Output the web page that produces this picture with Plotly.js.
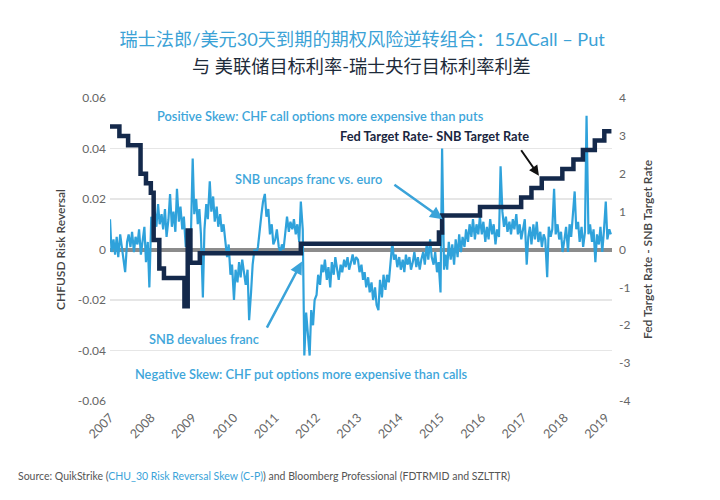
<!DOCTYPE html>
<html>
<head>
<meta charset="utf-8">
<script src="https://cdn.plot.ly/plotly-3.0.1.min.js"></script>
<style>html,body{margin:0;padding:0;background:#fff;}#chart{width:720px;height:500px;}</style>
</head>
<body>
<div id="chart"></div>
<script>
// ---- Data ----
// CHFUSD 30-day risk reversal, sampled on the 1st and 15th of each month
const rr2007 = [0.012,-0.001,0.004,-0.002,0.005,-0.003,0.006,0.001,-0.004,-0.009,0.003,0.006,0.001,0.007,-0.001,0.005,0.002,0.008,-0.002,0.004,0.009,-0.005,0.003,-0.015];
const rr2008 = [0.013,0.006,0.015,0.009,0.018,0.010,0.014,0.008,0.016,0.005,0.012,0.022,0.009,0.015,0.007,0.024,0.011,0.017,0.008,0.013,0.001,0.006,-0.002,0.003];
const rr2009 = [0.036,0.014,0.020,0.010,0.016,0.006,-0.019,0.008,0.018,0.012,0.027,0.015,0.021,0.011,0.017,0.009,0.014,0.007,0.010,0.004,-0.003,0.002,-0.010,-0.006];
const rr2010 = [-0.020,-0.008,-0.013,-0.005,-0.011,-0.004,-0.009,-0.014,-0.008,-0.028,-0.017,-0.006,0.000,-0.002,0.001,0.008,0.014,0.019,0.022,0.013,0.016,0.006,0.010,0.002];
const rr2011 = [0.004,0.008,0.001,-0.001,0.002,0.000,0.009,0.013,0.007,0.011,0.008,0.012,0.006,0.010,0.003,0.019,0.008,-0.042,-0.025,-0.033,-0.042,-0.024,-0.030,-0.020];
const rr2012 = [-0.018,-0.010,-0.014,-0.006,-0.009,-0.004,-0.012,-0.007,-0.015,-0.005,-0.010,-0.003,-0.008,-0.012,-0.006,-0.009,-0.004,-0.007,-0.003,-0.008,-0.005,-0.002,-0.006,-0.003];
const rr2013 = [-0.004,-0.009,-0.006,-0.012,-0.009,-0.015,-0.011,-0.017,-0.013,-0.020,-0.015,-0.022,-0.024,-0.012,-0.019,-0.010,-0.016,-0.010,-0.013,-0.005,0.003,-0.004,-0.002,-0.007];
const rr2014 = [-0.003,-0.008,-0.004,-0.009,-0.002,-0.006,-0.003,-0.008,-0.005,-0.001,-0.007,-0.003,-0.008,-0.004,-0.001,-0.006,0.002,-0.004,0.004,-0.003,-0.006,-0.001,-0.009,-0.005];
const rr2015 = [-0.017,0.040,-0.008,-0.002,-0.008,0.003,-0.004,0.002,-0.006,0.004,-0.003,0.006,-0.001,0.005,0.001,0.008,0.003,0.010,0.005,0.012,0.004,0.010,0.006,0.013];
const rr2016 = [0.006,0.011,0.003,0.009,0.004,0.012,0.006,0.010,0.002,0.008,0.005,0.033,0.015,0.009,0.013,0.007,0.011,0.006,0.012,0.008,0.014,0.006,0.010,0.004];
const rr2017 = [0.008,0.012,-0.006,0.005,0.009,0.002,0.010,0.004,0.011,0.003,0.007,0.001,0.006,0.004,-0.011,0.009,0.005,0.008,0.024,0.006,0.010,0.004,0.007,-0.001];
const rr2018 = [0.004,0.009,-0.001,0.010,0.005,0.013,0.023,0.008,0.011,0.003,0.009,0.001,0.007,0.053,0.006,0.010,0.003,0.008,-0.005,0.006,0.002,0.009,-0.001,0.007];
const rr2019 = [0.019,0.004,0.008,0.006];
const rrYears = [2007,2008,2009,2010,2011,2012,2013,2014,2015,2016,2017,2018,2019];
const rrByYear = [rr2007,rr2008,rr2009,rr2010,rr2011,rr2012,rr2013,rr2014,rr2015,rr2016,rr2017,rr2018,rr2019];

// Fed target rate minus SNB target rate (step series)
const spreadDates = ['2007-01-01','2007-03-25','2007-06-10','2007-09-28','2007-11-15','2007-12-28','2008-01-22','2008-03-12','2008-04-22','2008-10-20','2008-11-18','2008-12-12','2009-03-05','2011-08-15','2014-12-18','2015-01-15','2015-12-16','2016-12-14','2017-03-15','2017-06-14','2017-12-13','2018-03-21','2018-06-13','2018-09-26','2018-12-19','2019-02-20'];
const spreadValues = [3.25,3.0,2.75,2.0,1.75,1.5,0.25,-0.5,-0.75,-1.5,0.5,-0.35,-0.1,0.15,0.45,0.9,1.125,1.375,1.625,1.875,2.125,2.375,2.625,2.875,3.125,3.125];

// Axis ticks
const yearTicks = ['2007','2008','2009','2010','2011','2012','2013','2014','2015','2016','2017','2018','2019'];
const leftTickVals = [-0.06,-0.04,-0.02,0,0.02,0.04,0.06];
const leftTickText = ['-0.06','-0.04','-0.02','0','0.02','0.04','0.06'];
const rightTickVals = [-4,-3,-2,-1,0,1,2,3,4];
const rightTickText = ['-4','-3','-2','-1','0','1','2','3','4'];

// ---- Build series ----
const rrDates = [], rrValues = [];
rrByYear.forEach((vals, k) => {
  vals.forEach((v, i) => {
    const m = Math.floor(i / 2) + 1;
    const d = (i % 2) ? 15 : 1;
    rrDates.push(rrYears[k] + '-' + String(m).padStart(2,'0') + '-' + String(d).padStart(2,'0'));
    rrValues.push(v);
  });
});

const FONT = "Lato, 'Noto Sans CJK SC', sans-serif";
const BLUE = '#2fa2db';
const TXTBLUE = '#3ea6da';
const NAVY = '#14294b';

const traces = [
  {x: rrDates, y: rrValues, type: 'scatter', mode: 'lines', yaxis: 'y',
   line: {color: BLUE, width: 2.2}, name: 'CHFUSD Risk Reversal', hoverinfo: 'x+y'},
  {x: spreadDates, y: spreadValues, type: 'scatter', mode: 'lines', yaxis: 'y2',
   line: {color: NAVY, width: 4.5, shape: 'hv'}, name: 'Fed Target Rate- SNB Target Rate'}
];

const txt = (text, x, y, color, extra) => Object.assign({
  text: text, xref: 'paper', yref: 'paper', x: x, y: y, xanchor: 'center', yanchor: 'middle',
  showarrow: false, font: {family: FONT, size: 12.8, color: color, weight: 600}
}, extra || {});

const arrow = (x, y, ax, ay, color, w) => ({
  text: '', xref: 'x', yref: 'y2', axref: 'x', ayref: 'y2', x: x, y: y, ax: ax, ay: ay,
  showarrow: true, arrowcolor: color, arrowwidth: w, arrowhead: 2, arrowsize: 1
});

const layout = {
  width: 720, height: 500,
  margin: {l: 110, r: 108, t: 98, b: 99},
  paper_bgcolor: '#ffffff', plot_bgcolor: '#ffffff',
  showlegend: false,
  font: {family: FONT, color: '#555'},
  title: {
    text: '瑞士法郎/美元30天到期的期权风险逆转组合：15ΔCall – Put',
    font: {family: FONT, size: 18.2, color: '#3ba2d6'},
    xref: 'container', yref: 'container', x: 0.503, xanchor: 'center', y: 0.921, yanchor: 'middle'
  },
  xaxis: {
    type: 'date', range: ['2007-01-01', '2019-02-25'],
    tickvals: yearTicks.map(y => y + '-01-01'), ticktext: yearTicks,
    tickangle: -45, tickfont: {family: FONT, size: 12.5, color: '#666'},
    showgrid: false, zeroline: false, showline: false, ticks: '', ticklabelstandoff: 6
  },
  yaxis: {
    range: [-0.06, 0.06], tickvals: leftTickVals, ticktext: leftTickText,
    tickfont: {family: FONT, size: 12, color: '#666'},
    showgrid: true, gridcolor: '#e6e6e6', gridwidth: 1.5,
    zeroline: true, zerolinecolor: '#8c8c8c', zerolinewidth: 4,
    showline: false, ticks: '', ticklabelstandoff: 3,
    title: {text: 'CHFUSD Risk Reversal', font: {family: FONT, size: 12, color: '#444', weight: 600}, standoff: 9}
  },
  yaxis2: {
    overlaying: 'y', side: 'right', range: [-4, 4],
    tickvals: rightTickVals, ticktext: rightTickText,
    tickfont: {family: FONT, size: 12, color: '#666'},
    showgrid: false, zeroline: false, showline: false, ticks: '', ticklabelstandoff: 6,
    title: {text: 'Fed Target Rate - SNB Target Rate', font: {family: FONT, size: 12, color: '#444', weight: 600}, standoff: 14}
  },
  annotations: [
    txt('与 美联储目标利率-瑞士央行目标利率利差', 0.5, 1.1056, '#1e2b3a', {font: {family: FONT, size: 18.2, color: '#1e2b3a'}}),
    txt('Positive Skew: CHF call options more expensive than puts', 0.420, 0.941, TXTBLUE),
    txt('Fed Target Rate- SNB Target Rate', 0.647, 0.875, '#1a2640', {font: {family: FONT, size: 12.8, color: '#1a2640', weight: 700}}),
    txt('SNB uncaps franc vs. euro', 0.396, 0.733, TXTBLUE),
    txt('SNB devalues franc', 0.188, 0.205, TXTBLUE),
    txt('Negative Skew: CHF put options more expensive than calls', 0.381, 0.089, TXTBLUE),
    arrow('2017-05-20', 1.95, '2016-12-05', 2.66, '#111111', 2),
    arrow('2015-01-20', 0.80, '2013-11-06', 1.74, '#3aa3d9', 2.5),
    arrow('2011-08-25', -0.32, '2010-10-12', -2.1, '#3aa3d9', 2.5),
    {text: 'Source: QuikStrike (<span style="color:#3aa3d9">CHU_30 Risk Reversal Skew (C-P)</span>) and Bloomberg Professional (FDTRMID and SZLTTR)',
     xref: 'paper', yref: 'paper', x: -0.187, y: -0.2475, xanchor: 'left', yanchor: 'middle',
     showarrow: false, font: {family: FONT, size: 10.5, color: '#555'}}
  ]
};

Plotly.newPlot('chart', traces, layout, {displayModeBar: false, staticPlot: true});
</script>
</body>
</html>
